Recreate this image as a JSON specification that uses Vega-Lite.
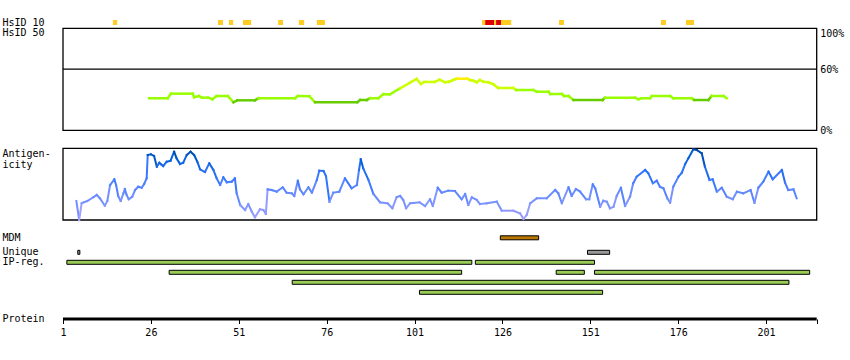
{
  "$schema": "https://vega.github.io/schema/vega-lite/v6.json",
  "width": 753.7,
  "height": 319,
  "autosize": {"type": "none"},
  "padding": {"left": 63, "top": 0, "right": 33.3, "bottom": 41},
  "background": "white",
  "config": {
    "view": {"stroke": null},
    "axis": {"labelFont": "DejaVu Sans Mono", "labelFontSize": 10, "labelColor": "#000", "titleFont": "DejaVu Sans Mono", "titleFontSize": 10, "titleFontWeight": "normal", "titleColor": "#000", "grid": false}
  },
  "resolve": {"scale": {"y": "independent", "color": "independent"}, "axis": {"x": "independent", "y": "independent"}},
  "layer": [
    {
      "data": {"values": [{"name": "Protein", "start": 1, "end": 215.4}]},
      "mark": {"type": "rule", "color": "#000", "strokeWidth": 3},
      "encoding": {
        "x": {"field": "start", "type": "quantitative", "scale": {"domain": [1, 215.4], "nice": false, "zero": false},
          "axis": {"orient": "bottom", "values": [1, 26, 51, 76, 101, 126, 151, 176, 201, 215.4],
            "labelExpr": "datum.value > 210 ? '' : datum.label", "format": "d", "grid": false,
            "domain": false, "tickColor": "#000", "tickWidth": 1, "tickSize": 4.5,
            "labelPadding": 4, "labelBaseline": "top", "labelFlush": false, "labelOverlap": false,
            "title": null}},
        "x2": {"field": "end"},
        "y": {"field": "name", "type": "nominal", "scale": {"domain": ["Protein"], "range": [314, 324], "paddingInner": 0, "paddingOuter": 0},
          "axis": {"orient": "left", "title": null, "domain": false, "ticks": false, "tickSize": 0, "grid": false, "labelAlign": "left", "labelPadding": 61, "labelBaseline": "middle"}}
      }
    },
    {
      "data": {"values": [
        {"row": "HsID 10", "level": "10", "start": 15.2, "end": 16.4},
        {"row": "HsID 10", "level": "10", "start": 45.1, "end": 46.5},
        {"row": "HsID 10", "level": "10", "start": 48.2, "end": 49.4},
        {"row": "HsID 10", "level": "10", "start": 52.2, "end": 54.5},
        {"row": "HsID 10", "level": "10", "start": 62.2, "end": 63.6},
        {"row": "HsID 10", "level": "10", "start": 68.1, "end": 69.6},
        {"row": "HsID 10", "level": "10", "start": 73.2, "end": 75.5},
        {"row": "HsID 10", "level": "10", "start": 120.2, "end": 121.1},
        {"row": "HsID 10", "level": "50", "start": 121.1, "end": 123.6},
        {"row": "HsID 10", "level": "10", "start": 123.6, "end": 124.2},
        {"row": "HsID 10", "level": "50", "start": 124.2, "end": 125.6},
        {"row": "HsID 10", "level": "10", "start": 125.6, "end": 128.5},
        {"row": "HsID 10", "level": "10", "start": 142.1, "end": 143.5},
        {"row": "HsID 10", "level": "10", "start": 171.1, "end": 172.5},
        {"row": "HsID 10", "level": "10", "start": 178.2, "end": 180.5}
      ]},
      "mark": {"type": "bar", "height": 5},
      "encoding": {
        "x": {"field": "start", "type": "quantitative", "scale": {"domain": [1, 215.4], "nice": false, "zero": false}, "axis": null},
        "x2": {"field": "end"},
        "y": {"field": "row", "type": "nominal", "scale": {"domain": ["HsID 10", "HsID 50"], "range": [17.5, 37.5], "paddingInner": 0, "paddingOuter": 0},
          "axis": {"orient": "left", "title": null, "domain": false, "ticks": false, "tickSize": 0, "grid": false, "labelAlign": "left", "labelPadding": 61, "labelBaseline": "middle"}},
        "color": {"field": "level", "type": "nominal", "scale": {"domain": ["10", "50"], "range": ["#ffcc22", "#dd0000"]}, "legend": null}
      }
    },
    {
      "layer": [
        {
          "data": {"values": [{}]},
          "mark": {"type": "rect", "filled": false, "color": "#000", "strokeWidth": 1.3},
          "encoding": {
            "x": {"datum": 1, "type": "quantitative", "scale": {"domain": [1, 215.4], "nice": false, "zero": false}, "axis": null},
            "x2": {"datum": 215.4},
            "y": {"datum": 0, "type": "quantitative", "scale": {"domain": [0, 100], "range": [130.3, 28.3], "nice": false, "zero": false},
              "axis": {"orient": "right", "values": [0, 60, 100], "labelExpr": "datum.value + '%'", "domain": false, "ticks": false, "tickSize": 0, "grid": false,
                "labelPadding": 3, "labelAlign": "left", "labelFlush": false, "title": null,
                "labelBaseline": {"condition": {"test": "datum.value == 100", "value": "top"}, "value": "middle"}}},
            "y2": {"datum": 100}
          }
        },
        {
          "data": {"values": [{}]},
          "mark": {"type": "rule", "color": "#000", "strokeWidth": 1.3},
          "encoding": {
            "x": {"datum": 1, "type": "quantitative", "axis": null},
            "x2": {"datum": 215.4},
            "y": {"datum": 60, "type": "quantitative"}
          }
        },
        {
          "data": {"values": [
            {"r": 25.5, "v": 31.4}, {"r": 30.8, "v": 31.4}, {"r": 31.7, "v": 35.9}, {"r": 37.9, "v": 35.9}, {"r": 38.3, "v": 32.4},
            {"r": 39.7, "v": 33.6}, {"r": 40.5, "v": 32.0}, {"r": 42.3, "v": 32.0}, {"r": 43.5, "v": 30.4}, {"r": 44.7, "v": 33.6},
            {"r": 47.9, "v": 33.6}, {"r": 49.5, "v": 27.5}, {"r": 50.6, "v": 29.4}, {"r": 55.6, "v": 29.4}, {"r": 56.6, "v": 31.4},
            {"r": 67.0, "v": 31.4}, {"r": 67.8, "v": 33.6}, {"r": 71.1, "v": 33.3}, {"r": 72.7, "v": 27.5}, {"r": 84.7, "v": 27.5},
            {"r": 85.5, "v": 29.7}, {"r": 87.4, "v": 29.7}, {"r": 88.3, "v": 31.4}, {"r": 90.7, "v": 31.4}, {"r": 92.1, "v": 35.3},
            {"r": 94.0, "v": 35.3}, {"r": 96.9, "v": 41.2}, {"r": 99.7, "v": 46.7}, {"r": 101.6, "v": 50.3}, {"r": 102.8, "v": 45.4},
            {"r": 103.7, "v": 47.4}, {"r": 106.8, "v": 47.4}, {"r": 108.1, "v": 49.6}, {"r": 109.7, "v": 47.1}, {"r": 110.8, "v": 47.6},
            {"r": 112.2, "v": 49.6}, {"r": 113.0, "v": 50.6}, {"r": 115.9, "v": 50.6}, {"r": 116.8, "v": 49.3}, {"r": 117.7, "v": 48.6},
            {"r": 118.7, "v": 47.1}, {"r": 119.6, "v": 49.3}, {"r": 120.6, "v": 47.6}, {"r": 122.0, "v": 47.1}, {"r": 123.4, "v": 45.1},
            {"r": 124.8, "v": 41.5}, {"r": 129.1, "v": 41.5}, {"r": 129.9, "v": 39.5}, {"r": 134.8, "v": 39.5}, {"r": 135.8, "v": 37.8},
            {"r": 139.1, "v": 37.8}, {"r": 139.6, "v": 35.6}, {"r": 142.9, "v": 35.6}, {"r": 143.5, "v": 33.6}, {"r": 144.8, "v": 33.6},
            {"r": 146.2, "v": 29.7}, {"r": 154.5, "v": 29.7}, {"r": 155.2, "v": 32.0}, {"r": 163.7, "v": 32.0}, {"r": 164.7, "v": 30.4},
            {"r": 165.6, "v": 31.4}, {"r": 168.0, "v": 31.4}, {"r": 168.5, "v": 33.6}, {"r": 173.7, "v": 33.6}, {"r": 174.6, "v": 31.4},
            {"r": 179.9, "v": 31.4}, {"r": 180.5, "v": 29.7}, {"r": 184.6, "v": 29.7}, {"r": 185.5, "v": 33.6}, {"r": 188.9, "v": 33.6},
            {"r": 189.8, "v": 31.4}
          ]},
          "transform": [
            {"window": [{"op": "lead", "field": "r", "as": "r2"}, {"op": "lead", "field": "v", "as": "v2"}], "sort": [{"field": "r"}]},
            {"filter": "datum.r2 != null"}
          ],
          "mark": {"type": "rule", "strokeWidth": 2.5, "strokeCap": "square"},
          "encoding": {
            "x": {"field": "r", "type": "quantitative", "axis": null},
            "x2": {"field": "r2"},
            "y": {"field": "v", "type": "quantitative"},
            "y2": {"field": "v2"},
            "color": {"field": "v", "type": "quantitative", "scale": {"type": "threshold", "domain": [30, 40, 50.5], "range": ["#66cc00", "#99ff00", "#ccff00", "#ffee00"]}, "legend": null}
          }
        }
      ]
    },
    {
      "layer": [
        {
          "data": {"values": [{}]},
          "mark": {"type": "rect", "filled": false, "color": "#000", "strokeWidth": 1.3},
          "encoding": {
            "x": {"datum": 1, "type": "quantitative", "scale": {"domain": [1, 215.4], "nice": false, "zero": false}, "axis": null},
            "x2": {"datum": 215.4},
            "y": {"datum": 0, "type": "quantitative", "scale": {"domain": [0, 100], "range": [220, 148.3], "nice": false, "zero": false},
              "axis": {"orient": "left", "labels": false, "domain": false, "ticks": false, "tickSize": 0, "grid": false,
                "title": ["Antigen-", "icity"], "titleX": -61, "titleY": 148.5, "titleAlign": "left", "titleBaseline": "top", "titleAngle": 0, "titleLineHeight": 10.5}},
            "y2": {"datum": 100}
          }
        },
        {
          "data": {"values": [
            {"r": 4.8, "s": 26.5}, {"r": 5.6, "s": 0}, {"r": 6.3, "s": 23.3}, {"r": 7.0, "s": 24.7}, {"r": 7.9, "s": 26.5},
            {"r": 9.6, "s": 31.7}, {"r": 10.6, "s": 34.9}, {"r": 11.5, "s": 30.3}, {"r": 12.9, "s": 19.9}, {"r": 13.6, "s": 26.5},
            {"r": 14.4, "s": 48.8}, {"r": 15.6, "s": 56.8}, {"r": 16.1, "s": 48.8}, {"r": 16.7, "s": 33.5}, {"r": 17.4, "s": 26.5},
            {"r": 18.2, "s": 37.2}, {"r": 18.6, "s": 43.2}, {"r": 19.1, "s": 34.9}, {"r": 19.7, "s": 28.9}, {"r": 20.7, "s": 32.5},
            {"r": 21.5, "s": 41.8}, {"r": 22.4, "s": 46.4}, {"r": 23.4, "s": 45.0}, {"r": 24.1, "s": 50.2}, {"r": 24.8, "s": 58.2},
            {"r": 25.1, "s": 90.7}, {"r": 26.0, "s": 91.6}, {"r": 26.9, "s": 89.3}, {"r": 27.7, "s": 74.3}, {"r": 28.4, "s": 79.9},
            {"r": 28.9, "s": 77.7}, {"r": 29.5, "s": 75.3}, {"r": 30.5, "s": 81.3}, {"r": 31.6, "s": 82.7}, {"r": 32.6, "s": 95.3},
            {"r": 33.3, "s": 86.1}, {"r": 34.3, "s": 78.1}, {"r": 35.2, "s": 79.9}, {"r": 36.2, "s": 90.7}, {"r": 37.3, "s": 95.3},
            {"r": 38.3, "s": 90.7}, {"r": 39.2, "s": 81.3}, {"r": 40.0, "s": 70.7}, {"r": 41.4, "s": 66.9}, {"r": 42.6, "s": 79.1},
            {"r": 43.8, "s": 69.7}, {"r": 44.7, "s": 58.2}, {"r": 45.7, "s": 48.8}, {"r": 46.6, "s": 59.6}, {"r": 47.6, "s": 52.6},
            {"r": 49.0, "s": 53.4}, {"r": 49.9, "s": 58.2}, {"r": 50.4, "s": 37.2}, {"r": 51.4, "s": 20.9}, {"r": 52.8, "s": 13.9},
            {"r": 53.7, "s": 22.3}, {"r": 54.7, "s": 11.6}, {"r": 55.6, "s": 3.8}, {"r": 57.0, "s": 14.9}, {"r": 58.0, "s": 13.9},
            {"r": 58.7, "s": 8.4}, {"r": 59.2, "s": 42.8}, {"r": 60.4, "s": 41.8}, {"r": 61.8, "s": 39.5}, {"r": 63.5, "s": 45.6},
            {"r": 64.6, "s": 38.1}, {"r": 66.1, "s": 37.2}, {"r": 66.8, "s": 33.5}, {"r": 67.8, "s": 54.8}, {"r": 68.4, "s": 42.8},
            {"r": 69.4, "s": 35.8}, {"r": 70.8, "s": 45.6}, {"r": 71.8, "s": 38.1}, {"r": 73.2, "s": 55.8}, {"r": 73.9, "s": 68.8},
            {"r": 75.1, "s": 68.3}, {"r": 75.8, "s": 61.4}, {"r": 76.8, "s": 25.5}, {"r": 77.9, "s": 38.1}, {"r": 79.6, "s": 39.5},
            {"r": 81.2, "s": 58.2}, {"r": 83.1, "s": 44.2}, {"r": 84.6, "s": 48.8}, {"r": 85.2, "s": 69.7}, {"r": 85.7, "s": 84.7},
            {"r": 86.4, "s": 72.1}, {"r": 87.9, "s": 55.8}, {"r": 89.3, "s": 36.3}, {"r": 91.2, "s": 24.7}, {"r": 93.3, "s": 23.3},
            {"r": 94.7, "s": 16.3}, {"r": 95.9, "s": 31.7}, {"r": 96.9, "s": 33.5}, {"r": 97.8, "s": 27.9}, {"r": 98.6, "s": 16.3},
            {"r": 99.7, "s": 23.3}, {"r": 102.4, "s": 24.7}, {"r": 104.0, "s": 19.5}, {"r": 105.4, "s": 28.9}, {"r": 106.2, "s": 19.5},
            {"r": 107.6, "s": 45.0}, {"r": 108.7, "s": 38.1}, {"r": 110.6, "s": 40.9}, {"r": 112.5, "s": 40.4}, {"r": 114.4, "s": 28.9},
            {"r": 115.4, "s": 36.3}, {"r": 116.3, "s": 20.9}, {"r": 117.3, "s": 31.7}, {"r": 118.7, "s": 27.9}, {"r": 119.6, "s": 22.3},
            {"r": 121.5, "s": 23.3}, {"r": 124.4, "s": 25.5}, {"r": 125.8, "s": 13.0}, {"r": 129.1, "s": 13.0}, {"r": 131.0, "s": 9.3},
            {"r": 132.0, "s": 1.4}, {"r": 132.9, "s": 7.0}, {"r": 133.9, "s": 23.3}, {"r": 135.8, "s": 30.3}, {"r": 138.6, "s": 30.3},
            {"r": 141.0, "s": 41.8}, {"r": 141.9, "s": 37.2}, {"r": 142.9, "s": 23.3}, {"r": 144.8, "s": 45.6}, {"r": 145.7, "s": 33.5},
            {"r": 146.9, "s": 43.2}, {"r": 148.1, "s": 39.5}, {"r": 149.8, "s": 28.9}, {"r": 150.7, "s": 28.9}, {"r": 151.7, "s": 49.8},
            {"r": 152.4, "s": 44.2}, {"r": 153.8, "s": 18.5}, {"r": 154.7, "s": 26.9}, {"r": 155.7, "s": 25.5}, {"r": 156.6, "s": 16.3},
            {"r": 157.6, "s": 18.5}, {"r": 158.5, "s": 33.5}, {"r": 159.7, "s": 45.0}, {"r": 160.9, "s": 19.5}, {"r": 162.3, "s": 32.5},
            {"r": 163.2, "s": 51.2}, {"r": 164.2, "s": 60.4}, {"r": 166.6, "s": 69.7}, {"r": 167.5, "s": 65.1}, {"r": 168.8, "s": 51.2},
            {"r": 169.9, "s": 54.8}, {"r": 170.8, "s": 46.4}, {"r": 171.8, "s": 44.2}, {"r": 172.9, "s": 30.3}, {"r": 173.7, "s": 24.1},
            {"r": 174.6, "s": 46.4}, {"r": 176.1, "s": 60.4}, {"r": 177.0, "s": 65.6}, {"r": 178.0, "s": 78.1}, {"r": 178.9, "s": 86.1},
            {"r": 180.3, "s": 98.6}, {"r": 181.3, "s": 97.6}, {"r": 182.7, "s": 93.0}, {"r": 183.6, "s": 74.3}, {"r": 184.9, "s": 55.8},
            {"r": 185.8, "s": 56.8}, {"r": 187.0, "s": 39.5}, {"r": 188.4, "s": 45.0}, {"r": 189.8, "s": 32.5}, {"r": 191.5, "s": 28.9},
            {"r": 192.7, "s": 39.5}, {"r": 194.5, "s": 37.2}, {"r": 196.6, "s": 41.8}, {"r": 197.7, "s": 24.1}, {"r": 198.8, "s": 45.0},
            {"r": 200.2, "s": 53.4}, {"r": 201.7, "s": 67.4}, {"r": 202.9, "s": 56.8}, {"r": 205.5, "s": 69.7}, {"r": 206.4, "s": 52.0},
            {"r": 207.3, "s": 41.8}, {"r": 208.8, "s": 42.8}, {"r": 209.7, "s": 30.3}
          ]},
          "transform": [
            {"window": [{"op": "lead", "field": "r", "as": "r2"}, {"op": "lead", "field": "s", "as": "s2"}], "sort": [{"field": "r"}]},
            {"filter": "datum.r2 != null"}
          ],
          "mark": {"type": "rule", "strokeWidth": 2, "strokeCap": "square"},
          "encoding": {
            "x": {"field": "r", "type": "quantitative", "axis": null},
            "x2": {"field": "r2"},
            "y": {"field": "s", "type": "quantitative"},
            "y2": {"field": "s2"},
            "color": {"field": "s", "type": "quantitative", "scale": {"domain": [0, 30, 60, 85, 100], "range": ["#a0a0ff", "#6f8fff", "#3377ff", "#0060dd", "#00449a"]}, "legend": null}
          }
        }
      ]
    },
    {
      "data": {"values": [{"lane": "MDM", "start": 125.4, "end": 136.3}]},
      "mark": {"type": "bar", "height": 4, "stroke": "#000", "strokeWidth": 1, "fill": "#bb7700"},
      "encoding": {
        "x": {"field": "start", "type": "quantitative", "scale": {"domain": [1, 215.4], "nice": false, "zero": false}, "axis": null},
        "x2": {"field": "end"},
        "y": {"field": "lane", "type": "nominal", "scale": {"domain": ["MDM"], "range": [232.8, 242.8], "paddingInner": 0, "paddingOuter": 0},
          "axis": {"orient": "left", "title": null, "domain": false, "ticks": false, "tickSize": 0, "grid": false, "labelAlign": "left", "labelPadding": 61, "labelBaseline": "middle"}}
      }
    },
    {
      "data": {"values": [
        {"lane": "Unique", "kind": "Unique", "start": 5.2, "end": 5.8},
        {"lane": "Unique", "kind": "Unique", "start": 150.2, "end": 156.5},
        {"lane": "IP1", "kind": "IP", "start": 2.1, "end": 117.3},
        {"lane": "IP1", "kind": "IP", "start": 118.3, "end": 152.2},
        {"lane": "IP2", "kind": "IP", "start": 31.2, "end": 114.4},
        {"lane": "IP2", "kind": "IP", "start": 141.3, "end": 149.3},
        {"lane": "IP2", "kind": "IP", "start": 152.2, "end": 213.4},
        {"lane": "IP3", "kind": "IP", "start": 66.2, "end": 207.5},
        {"lane": "IP4", "kind": "IP", "start": 102.4, "end": 154.5}
      ]},
      "mark": {"type": "bar", "height": 4, "stroke": "#000", "strokeWidth": 1},
      "encoding": {
        "x": {"field": "start", "type": "quantitative", "scale": {"domain": [1, 215.4], "nice": false, "zero": false}, "axis": null},
        "x2": {"field": "end"},
        "y": {"field": "lane", "type": "nominal", "scale": {"domain": ["Unique", "IP1", "IP2", "IP3", "IP4"], "range": [247.3, 297.3], "paddingInner": 0, "paddingOuter": 0},
          "axis": {"orient": "left", "title": null, "domain": false, "ticks": false, "tickSize": 0, "grid": false, "labelAlign": "left", "labelPadding": 61, "labelBaseline": "middle",
            "labelExpr": "datum.value == 'IP1' ? 'IP-reg.' : (datum.value == 'Unique' ? 'Unique' : '')"}},
        "color": {"field": "kind", "type": "nominal", "scale": {"domain": ["IP", "Unique"], "range": ["#99cc55", "#999999"]}, "legend": null}
      }
    }
  ]
}
